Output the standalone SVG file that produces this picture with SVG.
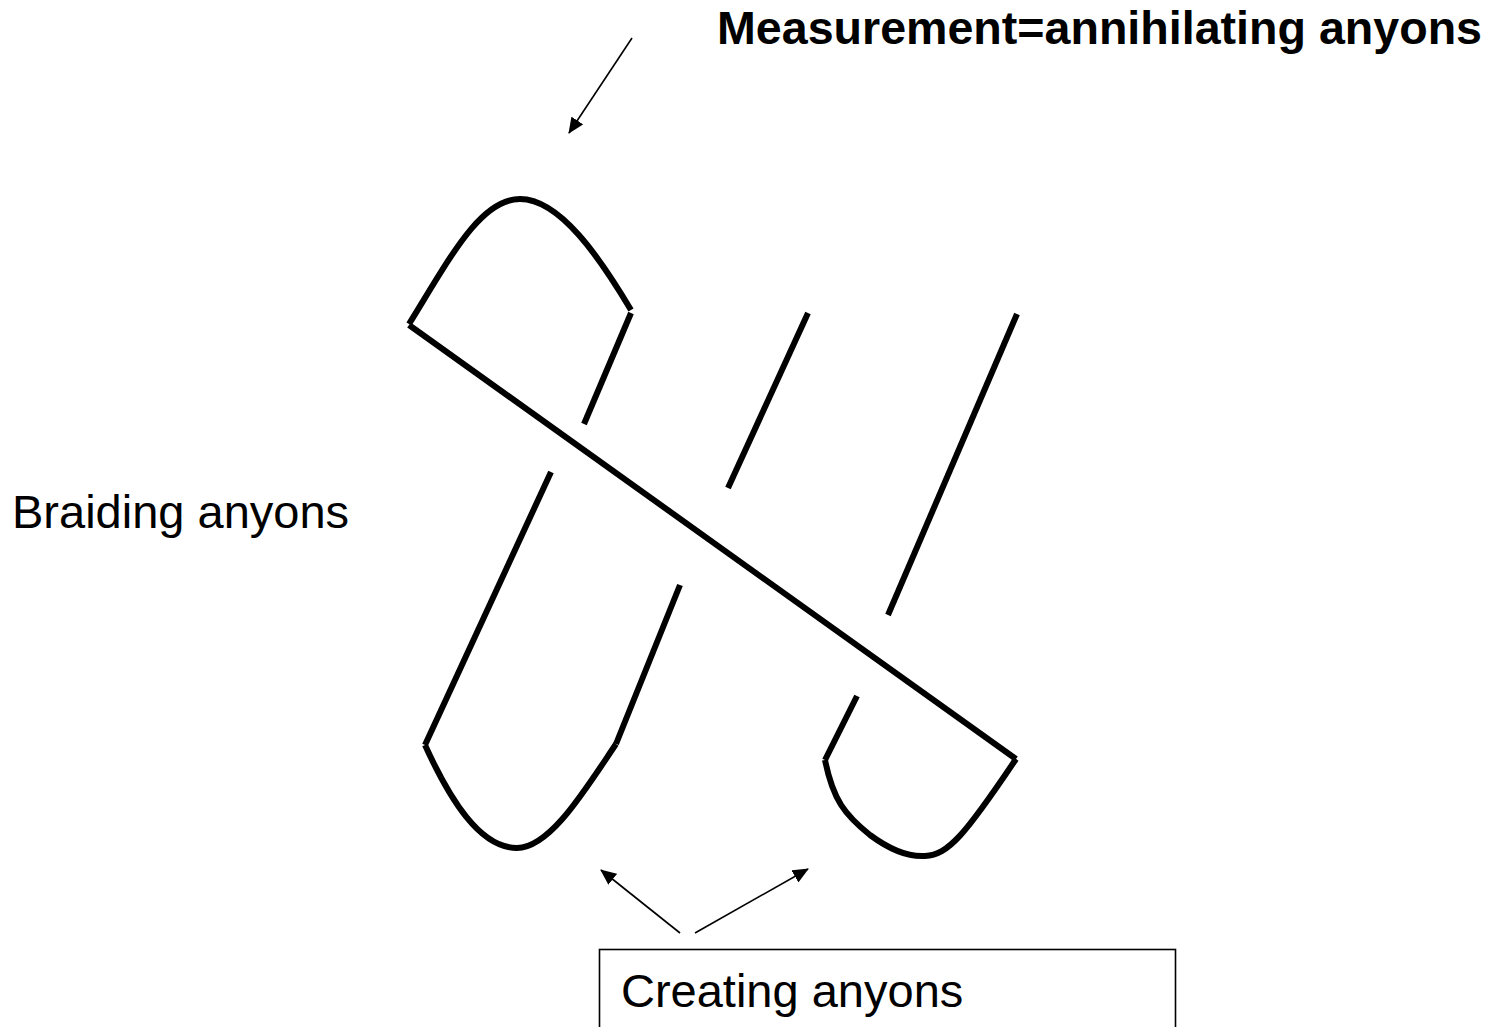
<svg xmlns="http://www.w3.org/2000/svg" width="1499" height="1027" viewBox="0 0 1499 1027">
<style>
.s{fill:none;stroke:#000;stroke-width:6}
.a{fill:none;stroke:#000;stroke-width:1.6}
.t{font-family:"Liberation Sans",Arial,sans-serif;font-size:47px;fill:#000}
</style>
<defs>
<marker id="ah" markerWidth="16" markerHeight="14" refX="15" refY="7" orient="auto" markerUnits="userSpaceOnUse" viewBox="0 0 16 14">
<path d="M0,0 L16,7 L0,14 z" fill="#000"/>
</marker>
</defs>
<rect width="1499" height="1027" fill="#fff"/>
<g id="braid">
<path class="s" d="M409,324 C450,258 480,199 520,199 C560,199 600,258 631,310"/>
<path class="s" d="M631,313 L584,424"/>
<path class="s" d="M551,472 L425,745"/>
<path class="s" d="M425,745 C450,800 480,848 517,848 C550,848 585,790 616,744"/>
<path class="s" d="M616,744 L680,585"/>
<path class="s" d="M728,488 L808,313"/>
<path class="s" d="M409,325 L1016,759"/>
<path class="s" d="M1017,314 L888,615"/>
<path class="s" d="M857,696 L825,760"/>
<path class="s" d="M825,760 C833,800 845,815 870,835 C893,852 910,857 925,856 C948,855 965,835 1016,759"/>
</g>
<g id="connectors">
<line class="a" x1="632" y1="38" x2="569" y2="133" marker-end="url(#ah)"/>
<line class="a" x1="680" y1="933" x2="601" y2="870" marker-end="url(#ah)"/>
<line class="a" x1="695" y1="933" x2="808" y2="869" marker-end="url(#ah)"/>
</g>
<g id="measure"><text class="t" x="717" y="44" font-weight="bold" textLength="765" lengthAdjust="spacingAndGlyphs">Measurement=annihilating anyons</text></g>
<g id="braiding"><text class="t" x="12" y="528">Braiding anyons</text></g>
<g id="creating">
<rect x="599.5" y="949.5" width="576" height="120" fill="none" stroke="#000" stroke-width="1.6"/>
<text class="t" x="621" y="1007">Creating anyons</text>
</g>
</svg>
